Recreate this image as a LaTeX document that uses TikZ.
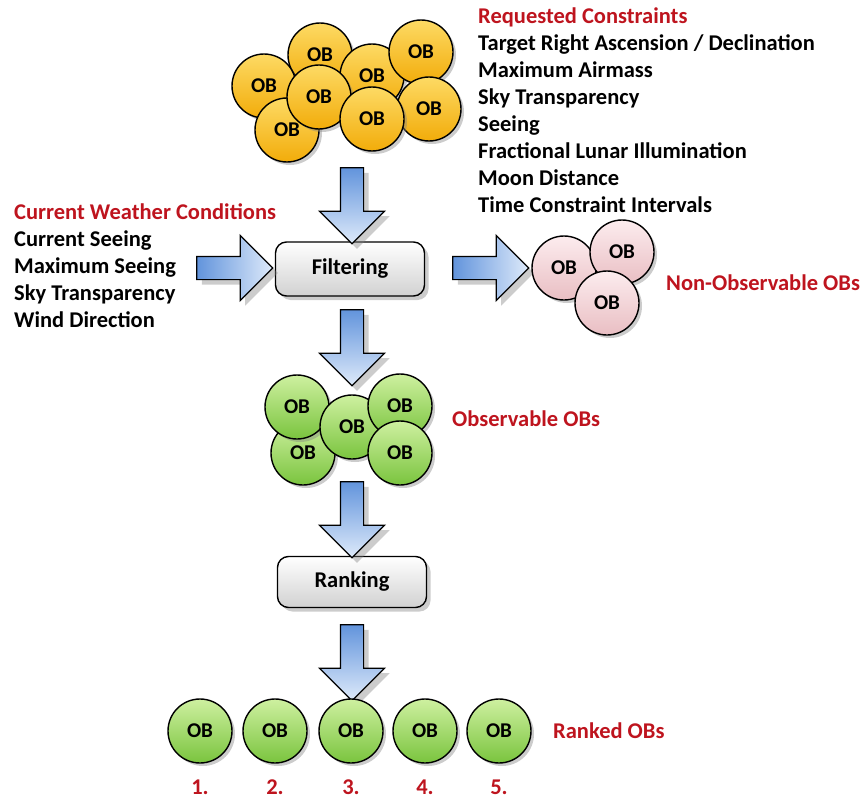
\documentclass[tikz,border=0pt]{standalone}
\usepackage{fontspec}
\setmainfont{Carlito}
\usetikzlibrary{shapes.arrows,shadows}

\definecolor{obred}{RGB}{190,20,30}
\definecolor{yellowtop}{RGB}{253,218,100}
\definecolor{yellowbot}{RGB}{242,172,10}
\definecolor{greentop}{RGB}{206,240,160}
\definecolor{greenbot}{RGB}{122,196,62}
\definecolor{pinktop}{RGB}{252,236,238}
\definecolor{pinkbot}{RGB}{233,190,195}
\definecolor{arrowdark}{RGB}{98,148,220}
\definecolor{arrowlight}{RGB}{222,234,250}

\begin{document}
\begin{tikzpicture}[x=1pt, y=-1pt,
    ob/.style ={circle, draw, line width=1.4pt, inner sep=0pt, minimum size=64pt,
      font=\bfseries\fontsize{21}{21}\selectfont,
      drop shadow={shadow xshift=3pt, shadow yshift=-3pt, opacity=0.4}},
    yob/.style ={ob, top color=yellowtop, bottom color=yellowbot},
    gob/.style ={ob, top color=greentop, bottom color=greenbot},
    pob/.style ={ob, top color=pinktop, bottom color=pinkbot},
    stepbox/.style ={draw, rounded corners=11pt, line width=1.4pt, minimum width=149pt,
      minimum height=54pt, top color=white, bottom color=black!18,
      font=\bfseries\fontsize{22.5}{22.5}\selectfont,
      drop shadow={shadow xshift=4pt, shadow yshift=-4pt, opacity=0.4}},
    blockarrow/.style ={single arrow, draw, line width=1.2pt,
      minimum height=76pt, single arrow head extend=21pt,
      drop shadow={shadow xshift=5pt, shadow yshift=-5pt, opacity=0.4}},
    downarrow/.style ={blockarrow, inner xsep=11pt, inner ysep=0pt, shape border rotate=270,
      top color=arrowdark, bottom color=arrowlight},
    rightarrow/.style ={blockarrow, inner xsep=0pt, inner ysep=11pt,
      left color=arrowdark, right color=arrowlight},
    listtext/.style ={align=left, inner sep=0pt, font=\bfseries\fontsize{22.5}{27}\selectfont},
    redtext/.style ={text=obred, inner sep=0pt, font=\bfseries\fontsize{22.5}{22.5}\selectfont}]
   \useasboundingbox (0,0) rectangle (862,800);

   % requested OBs
   \node[yob] (y1) at (320,55)  {OB};
   \node[yob] (y2) at (372,76)  {OB};
   \node[yob] (y3) at (421,52)  {OB};
   \node[yob] (y4) at (264,86)  {OB};
   \node[yob] (y5) at (287,130) {OB};
   \node[yob] (y6) at (319,97)  {OB};
   \node[yob] (y7) at (429,109) {OB};
   \node[yob] (y8) at (372,119) {OB};

   \node[listtext, anchor=north west] (constraints) at (478,8)
     {\textcolor{obred}{Requested Constraints}\\
      Target Right Ascension / Declination\\
      Maximum Airmass\\
      Sky Transparency\\
      Seeing\\
      Fractional Lunar Illumination\\
      Moon Distance\\
      Time Constraint Intervals};

   \node[listtext, anchor=north west] (weather) at (14,203)
     {\textcolor{obred}{Current Weather Conditions}\\
      Current Seeing\\
      Maximum Seeing\\
      Sky Transparency\\
      Wind Direction};

   \node[stepbox] (filt) at (350,269) {Filtering};
   \node[stepbox, minimum height=51pt] (rank) at (352,582) {Ranking};

   \node[downarrow] (a1) at (352,200) {};
   \node[rightarrow] (a2) at (229,268) {};
   \node[rightarrow] (a3) at (485,268) {};
   \node[downarrow] (a4) at (352,342) {};
   \node[downarrow] (a5) at (352,514) {};
   \node[downarrow] (a6) at (352,657) {};

   % non-observable
   \node[pob] (p1) at (564,268) {OB};
   \node[pob] (p2) at (622,252) {OB};
   \node[pob] (p3) at (607,303) {OB};
   \node[redtext, anchor=west] (nonobs) at (666,283) {Non-Observable OBs};

   % observable
   \node[gob] (g1) at (303,453) {OB};
   \node[gob] (g2) at (297,407) {OB};
   \node[gob] (g3) at (352,427) {OB};
   \node[gob] (g4) at (400,406) {OB};
   \node[gob] (g5) at (400,453) {OB};
   \node[redtext, anchor=west] (obs) at (452,419) {Observable OBs};

   % ranked
   \foreach \i/\x in {1/200,2/275,3/351,4/425,5/499}
     \node[gob, label={[redtext, label distance=16pt]below:\i.}] (r\i) at (\x,731) {OB};
   \node[redtext, anchor=west] (ranked) at (553,731) {Ranked OBs};
 \end{tikzpicture}
\end{document}
